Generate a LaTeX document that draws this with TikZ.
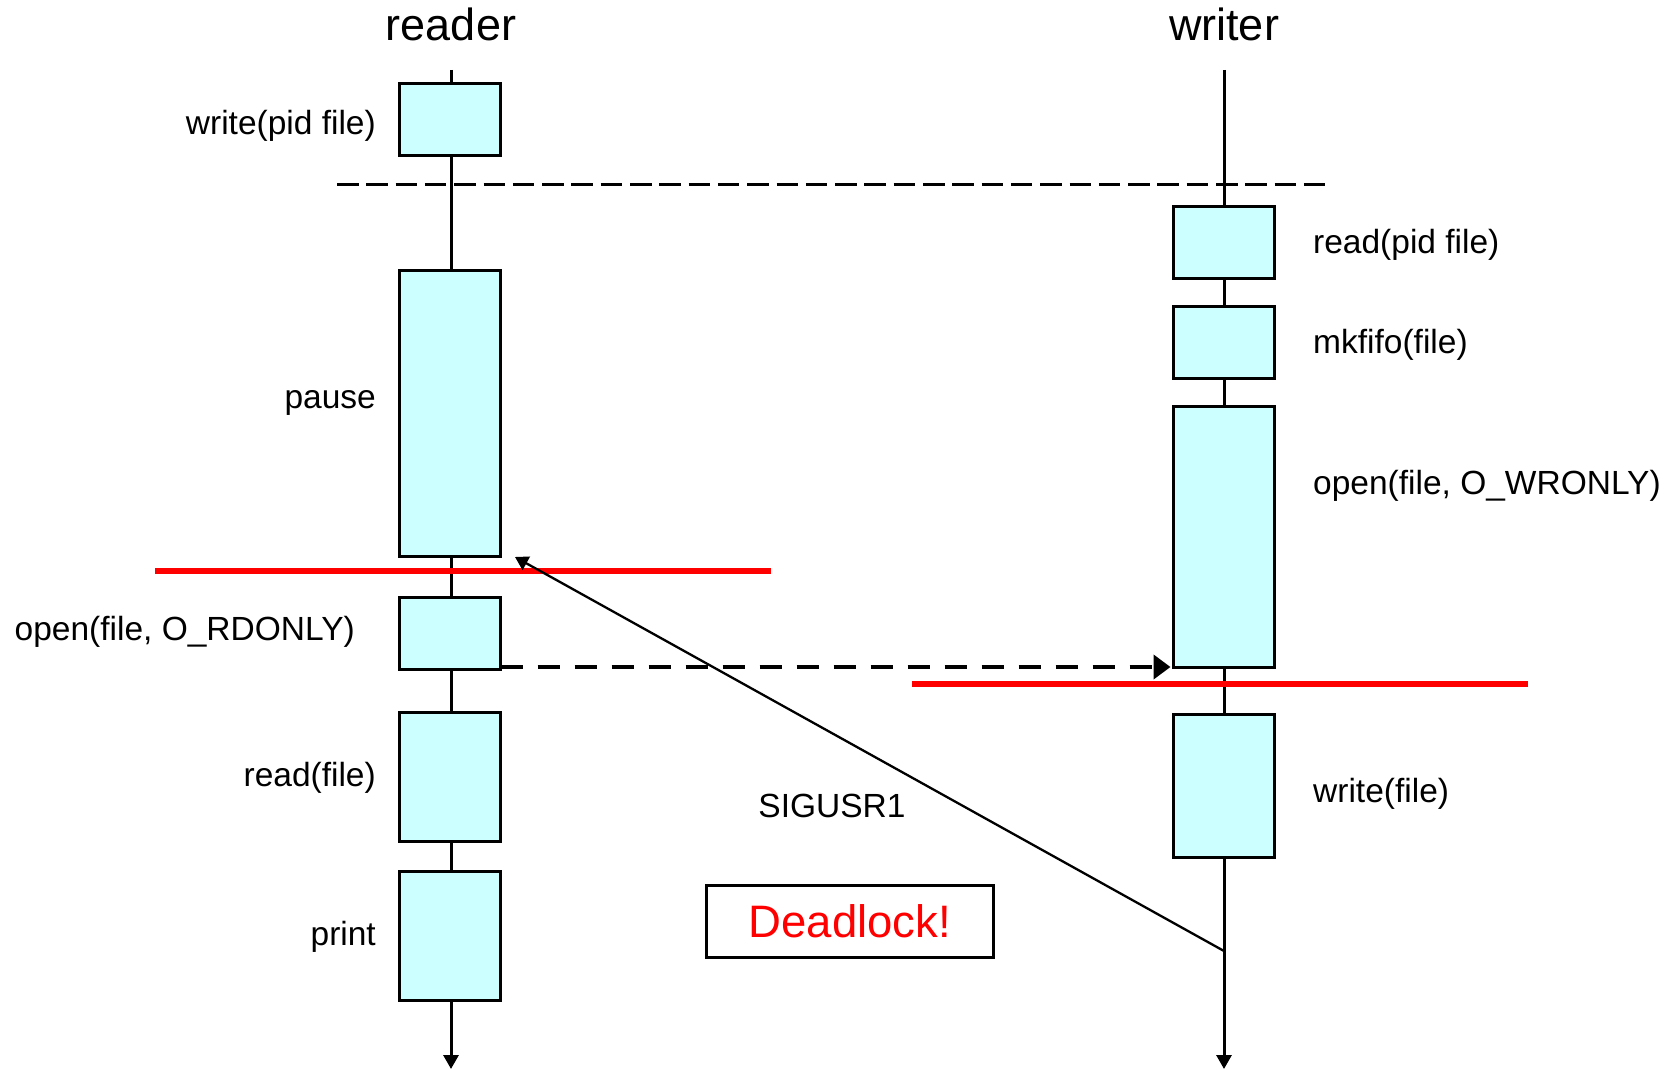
\documentclass[tikz,border=0pt]{standalone}
\usepackage{fontspec}
\setmainfont{Liberation Sans}
\usetikzlibrary{arrows.meta,calc}
\definecolor{boxfill}{HTML}{CCFFFF}
\definecolor{dlred}{HTML}{FF0000}
\tikzset{
  proc/.style={draw=black, line width=3pt, fill=boxfill, minimum width=101pt, inner sep=0pt, outer sep=0pt},
  lbl/.style={font=\fontsize{33.5}{40}\selectfont, inner sep=0pt},
  ttl/.style={font=\fontsize{45}{52}\selectfont, inner sep=0pt},
  axis/.style={line width=3pt, -{Triangle[width=15pt,length=14pt]}},
  redline/.style={draw=dlred, line width=5.5pt},
}
\begin{document}
\begin{tikzpicture}[x=1pt,y=-1pt]
\useasboundingbox (0,0) rectangle (1671,1070);
% titles
\node[ttl] (treader) at (451,24) {reader};
\node[ttl] (twriter) at (1224,24) {writer};
% axes
\coordinate (rtop) at (451,70);
\coordinate (rbot) at (451,1069);
\coordinate (wtop) at (1224,70);
\coordinate (wbot) at (1224,1069);
\draw[axis] (rtop) -- (rbot);
\draw[axis] (wtop) -- (wbot);
% separator dashed line
\coordinate (dl) at (337,184);
\coordinate (dr) at (1327,184);
\draw[line width=3pt, dash pattern=on 21.5pt off 7.8pt] (dl) -- (dr);
% reader boxes
\node[proc, minimum height=72pt]  (wpid)  at (450,120) {};
\node[proc, minimum height=286pt] (pause) at (450,413) {};
\node[proc, minimum height=72pt]  (ropen) at (450,633) {};
\node[proc, minimum height=129pt] (rread) at (450,776.5) {};
\node[proc, minimum height=129pt] (rprint) at (450,935.5) {};
% writer boxes
\node[proc, minimum height=72pt]  (rpid)   at (1224,242) {};
\node[proc, minimum height=72pt]  (mkf)    at (1224,342) {};
\node[proc, minimum height=261pt] (wopen)  at (1224,536.5) {};
\node[proc, minimum height=143pt] (wwrite) at (1224,785.5) {};
% reader labels
\node[lbl, anchor=east] (lwpid) at (376,126) {write(pid file)};
\node[lbl, anchor=east] (lpause) at (376,403) {pause};
\node[lbl, anchor=east] (lropen) at (355,632) {open(file, O\_RDONLY)};
\node[lbl, anchor=east] (lrread) at (376,778) {read(file)};
\node[lbl, anchor=east] (lprint) at (376,937) {print};
% writer labels
\node[lbl, anchor=west] (lrpid) at (1313,245) {read(pid file)};
\node[lbl, anchor=west] (lmkf) at (1313,345) {mkfifo(file)};
\node[lbl, anchor=west] (lwopen) at (1313,486) {open(file, O\_WRONLY)};
\node[lbl, anchor=west] (lwwrite) at (1313,794) {write(file)};
% red lines
\coordinate (r1a) at (155,571);
\coordinate (r1b) at (771,571);
\coordinate (r2a) at (912,684);
\coordinate (r2b) at (1528,684);
\draw[redline] (r1a) -- (r1b);
\draw[redline] (r2a) -- (r2b);
% dashed arrow open -> open
\draw[line width=4pt, dash pattern=on 22pt off 15pt, -{Triangle[width=24pt,length=17pt]}]
  ($(ropen.south east)+(0,-2)$) -- ($(wopen.south west)+(-3,0)$);
% SIGUSR1
\coordinate (sig) at (1224,951);
\coordinate (sigend) at (515,557);
\draw[line width=2.3pt, -{Triangle[width=15pt,length=13pt]}] (sig) -- (sigend);
\node[lbl] (lsig) at (832,806) {SIGUSR1};
% deadlock
\node[draw=black, line width=3pt, minimum width=287pt, minimum height=72pt, inner sep=0pt,
      text=dlred, font=\fontsize{45.5}{54}\selectfont] (dead) at (850,921.5) {Deadlock!};
\end{tikzpicture}
\end{document}
